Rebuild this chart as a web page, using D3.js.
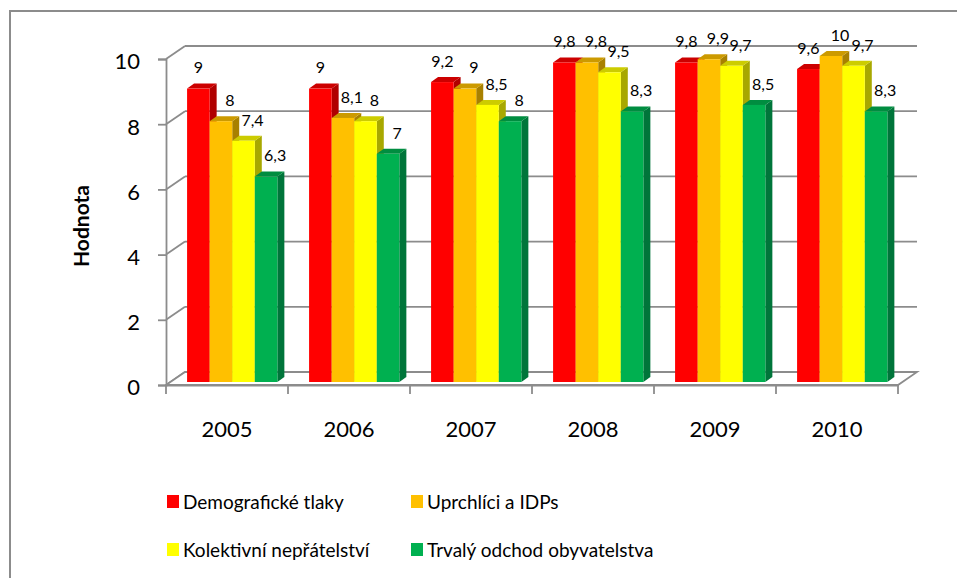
<!DOCTYPE html>
<html>
<head>
<meta charset="utf-8">
<script src="https://cdn.jsdelivr.net/npm/d3@7"></script>
<style>
  body { margin: 0; background: #fff; }
  text { font-family: Lato, "Open Sans", sans-serif; fill: #000; }
</style>
</head>
<body>
<script>
// chart data
const years = ["2005", "2006", "2007", "2008", "2009", "2010"];
const seriesNames = ["Demografické tlaky", "Uprchlíci a IDPs", "Kolektivní nepřátelství", "Trvalý odchod obyvatelstva"];
const demografie = [9, 9, 9.2, 9.8, 9.8, 9.6];
const uprchlici = [8, 8.1, 9, 9.8, 9.9, 10];
const nepratelstvi = [7.4, 8, 8.5, 9.5, 9.7, 9.7];
const odchod = [6.3, 7, 8, 8.3, 8.5, 8.3];
const yTicks = [0, 2, 4, 6, 8, 10];

const allSeries = [demografie, uprchlici, nepratelstvi, odchod];
const front = ["#ff0000", "#ffc000", "#ffff00", "#00b050"];
const topCol = ["#cc0000", "#cc9a00", "#cccc00", "#008d40"];
const sideCol = ["#b00000", "#a88000", "#a8a800", "#00753a"];

const W = 957, H = 578;
const gray = "#8c8c8c";

// wall depth and bar depth (projection offsets)
const wall = { dx: 19, dy: -13 };
const plane = { dx: 4, dy: -3 };
const depth = { dx: 7, dy: -5 };

const svg = d3.select("body").append("svg")
    .attr("width", W)
    .attr("height", H);

// outer frame
svg.append("rect")
    .attr("x", 10).attr("y", 11)
    .attr("width", W + 20).attr("height", H + 20)
    .attr("fill", "none")
    .attr("stroke", gray)
    .attr("stroke-width", 2);

const x0 = d3.scaleBand()
    .domain(years)
    .range([166, 898]);

const x1 = d3.scaleBand()
    .domain(d3.range(seriesNames.length))
    .range([x0.bandwidth() * 0.14, x0.bandwidth() * 0.88]);

const y = d3.scaleLinear()
    .domain([0, 10])
    .range([385, 59]);

// back wall gridlines
const grid = svg.append("g").attr("stroke", gray).attr("stroke-width", 1.8).attr("fill", "none");
yTicks.forEach(v => {
    grid.append("line")
        .attr("x1", 166 + wall.dx).attr("x2", 898 + wall.dx)
        .attr("y1", y(v) + wall.dy).attr("y2", y(v) + wall.dy);
    grid.append("line")
        .attr("x1", 166).attr("x2", 166 + wall.dx)
        .attr("y1", y(v)).attr("y2", y(v) + wall.dy);
});

// floor
grid.append("path")
    .attr("d", `M166,${y(0)}L898,${y(0)}L${898 + wall.dx},${y(0) + wall.dy}L${166 + wall.dx},${y(0) + wall.dy}Z`)
    .attr("fill", "#fff");

// y axis
const yAxis = svg.append("g")
    .attr("transform", "translate(166,0)")
    .call(d3.axisLeft(y).tickValues(yTicks).tickSize(8).tickPadding(18));
yAxis.select(".domain").attr("stroke", gray).attr("stroke-width", 1.8);
yAxis.selectAll(".tick line").attr("stroke", gray).attr("stroke-width", 1.8);
yAxis.selectAll(".tick text")
    .style("font-family", "Lato, sans-serif")
    .style("font-size", "22px")
    .attr("dy", "0.45em");

// x axis
const xAxis = svg.append("g")
    .attr("transform", `translate(0,${y(0)})`)
    .call(d3.axisBottom(x0).tickSize(0).tickPadding(36));
xAxis.select(".domain").attr("stroke", gray).attr("stroke-width", 1.8);
xAxis.selectAll(".tick text")
    .style("font-family", "Lato, sans-serif")
    .style("font-size", "22px");
xAxis.selectAll(".boundary")
    .data(years.map(d => x0(d)).concat([x0.range()[1]]))
    .enter().append("line")
    .attr("x1", d => d).attr("x2", d => d)
    .attr("y1", 0).attr("y2", 9)
    .attr("stroke", gray).attr("stroke-width", 1.8);

// bars
const bars = [];
years.forEach((yr, j) => {
    allSeries.forEach((s, i) => {
        bars.push({ year: yr, i: i, value: s[j] });
    });
});

const barG = svg.append("g");
bars.forEach(d => {
    const xl = x0(d.year) + x1(d.i) + plane.dx;
    const xr = xl + x1.bandwidth();
    const yt = y(d.value) + plane.dy;
    const yb = y(0) + plane.dy;
    const g = barG.append("g");
    g.append("path")
        .attr("d", `M${xr},${yb}L${xr + depth.dx},${yb + depth.dy}L${xr + depth.dx},${yt + depth.dy}L${xr},${yt}Z`)
        .attr("fill", sideCol[d.i]);
    g.append("path")
        .attr("d", `M${xl},${yt}L${xl + depth.dx},${yt + depth.dy}L${xr + depth.dx},${yt + depth.dy}L${xr},${yt}Z`)
        .attr("fill", topCol[d.i]);
    g.append("rect")
        .attr("x", xl).attr("y", yt)
        .attr("width", x1.bandwidth())
        .attr("height", yb - yt)
        .attr("fill", front[d.i]);
});

// value labels
const fmt = v => String(v).replace(".", ",");
svg.append("g").selectAll("text")
    .data(bars)
    .enter().append("text")
    .attr("x", d => x0(d.year) + x1(d.i) + plane.dx + x1.bandwidth() / 2 + (d.i === 0 ? 0 : 9))
    .attr("y", d => y(d.value) + plane.dy - 21)
    .attr("dy", "0.36em")
    .attr("text-anchor", "middle")
    .style("font-size", "16px")
    .text(d => fmt(d.value));

// y title
svg.append("text")
    .attr("transform", "translate(89,226) rotate(-90)")
    .attr("text-anchor", "middle")
    .style("font-size", "21px")
    .style("font-weight", "bold")
    .text("Hodnota");

// legend
const legend = svg.append("g");
seriesNames.forEach((name, i) => {
    const lx = i % 2 === 0 ? 167 : 411;
    const ly = i < 2 ? 509 : 557;
    legend.append("rect")
        .attr("x", lx).attr("y", ly - 14)
        .attr("width", 12).attr("height", 13)
        .attr("fill", front[i]);
    legend.append("text")
        .attr("x", lx + 16).attr("y", ly)
        .style("font-size", "19px")
        .text(name);
});
</script>
</body>
</html>
